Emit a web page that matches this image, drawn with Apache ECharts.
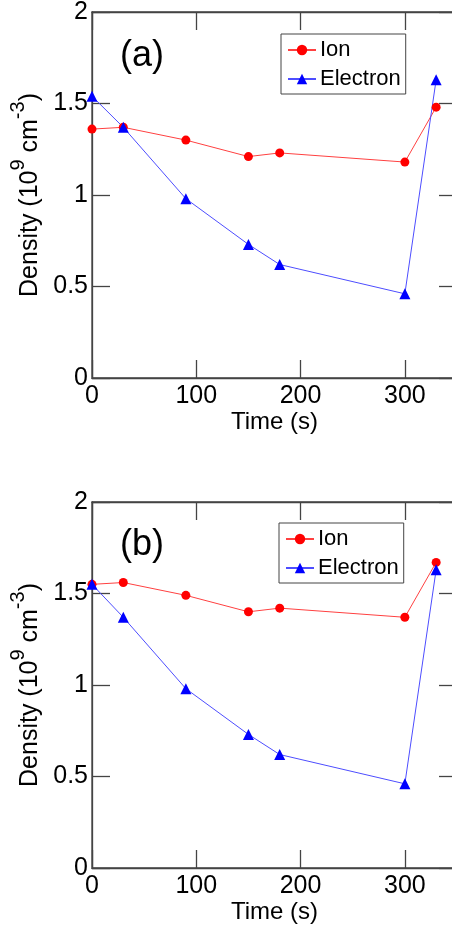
<!DOCTYPE html>
<html>
<head>
<meta charset="utf-8">
<script src="https://cdn.jsdelivr.net/npm/echarts@6/dist/echarts.min.js"></script>
<style>
  html, body { margin: 0; padding: 0; background: #fff; }
  #chart { width: 452px; height: 932px; }
</style>
</head>
<body>
<div id="chart"></div>
<script>
// 数据：时间 (s) 与两个面板的密度 (10^9 cm^-3)
const timeS = [0, 30, 90, 150, 180, 300, 330];
const ionA = [1.36, 1.37, 1.30, 1.21, 1.23, 1.18, 1.48];
const electronA = [1.54, 1.37, 0.98, 0.73, 0.62, 0.46, 1.63];
const ionB = [1.55, 1.56, 1.49, 1.40, 1.42, 1.37, 1.67];
const electronB = [1.55, 1.37, 0.98, 0.73, 0.62, 0.46, 1.63];
const panelLabels = ['(a)', '(b)'];
const seriesNames = ['Ion', 'Electron'];

const FONT = "'Liberation Sans', Arial, sans-serif";
const AXIS_COLOR = '#444';

const toPairs = (vals) => timeS.map((t, i) => [t, vals[i]]);

// 两个面板的位置
const panels = [
  { top: 12, legendTop: 34, legendLeft: 281, labelY: 58 },
  { top: 502, legendTop: 523, legendLeft: 279, labelY: 547 }
];

const chart = echarts.init(document.getElementById('chart'));

const grids = [];
const xAxes = [];
const yAxes = [];
const legends = [];
const graphics = [];

// 轴线和刻度的公共样式（刻度朝内，四边成框），每个轴单独一份
const makeLine = () => ({ show: true, onZero: false, lineStyle: { color: AXIS_COLOR, width: 1.3 } });
const makeTick = () => ({ show: true, inside: true, length: 18, lineStyle: { color: AXIS_COLOR, width: 1.3 } });

panels.forEach((p, i) => {
  // 右边框超出画布（x 最大值 350 被裁掉），不让 ECharts 收缩网格
  grids.push({
    left: 92, top: p.top, width: 365, height: 366,
    outerBoundsMode: 'none',
    show: true, borderColor: AXIS_COLOR, borderWidth: 1.3, backgroundColor: 'transparent'
  });

  // 底部 x 轴（带刻度标签和名称）
  xAxes.push({
    type: 'value', gridIndex: i, position: 'bottom',
    min: 0, max: 350, interval: 100,
    name: 'Time (s)', nameLocation: 'middle', nameGap: 29,
    nameTextStyle: { fontSize: 24, color: '#000', fontFamily: FONT },
    axisLine: makeLine(),
    axisTick: makeTick(),
    axisLabel: { fontSize: 25, color: '#000', fontFamily: FONT, margin: 6, showMaxLabel: false },
    splitLine: { show: false }
  });
  // 顶部 x 轴（只画刻度）
  xAxes.push({
    type: 'value', gridIndex: i, position: 'top',
    min: 0, max: 350, interval: 100,
    axisLine: makeLine(),
    axisTick: makeTick(),
    axisLabel: { show: false },
    splitLine: { show: false }
  });

  // 左侧 y 轴
  yAxes.push({
    type: 'value', gridIndex: i, position: 'left',
    min: 0, max: 2, interval: 0.5,
    name: '{m|Density (10}{s|9}{m| cm}{s|-3}{m|)}',
    nameLocation: 'middle', nameGap: 41,
    nameTextStyle: {
      fontFamily: FONT, color: '#000',
      rich: {
        m: { fontSize: 25, lineHeight: 25, fontFamily: FONT, color: '#000', verticalAlign: 'bottom' },
        s: { fontSize: 20, lineHeight: 20, fontFamily: FONT, color: '#000', verticalAlign: 'bottom', padding: [0, 0, 14, 0] }
      }
    },
    axisLine: makeLine(),
    axisTick: makeTick(),
    axisLabel: { fontSize: 25, color: '#000', fontFamily: FONT, margin: 4 },
    splitLine: { show: false }
  });
  // 右侧 y 轴（只画刻度）
  yAxes.push({
    type: 'value', gridIndex: i, position: 'right',
    min: 0, max: 2, interval: 0.5,
    axisLine: makeLine(),
    axisTick: makeTick(),
    axisLabel: { show: false },
    splitLine: { show: false }
  });

  legends.push({
    left: p.legendLeft, top: p.legendTop,
    orient: 'vertical',
    data: seriesNames,
    backgroundColor: '#fff',
    borderColor: '#444', borderWidth: 1, borderRadius: 0,
    padding: [5, 5, 4, 6],
    itemGap: 7, itemWidth: 28, itemHeight: 13,
    textStyle: { fontSize: 22, lineHeight: 22, color: '#000', fontFamily: FONT, padding: [0, 0, 0, -1] },
    selectedMode: false
  });

  graphics.push({
    type: 'text', left: 120, top: p.labelY - 20, z: 10,
    style: { text: panelLabels[i], fontSize: 36, fontFamily: FONT, fill: '#000' }
  });
});

const makeSeries = (name, vals, i, color, lineColor, symbol, size) => ({
  name: name, type: 'line',
  xAxisIndex: i * 2, yAxisIndex: i * 2,
  data: toPairs(vals),
  symbol: symbol, symbolSize: size,
  itemStyle: { color: color },
  lineStyle: { color: lineColor, width: 1 },
  z: 5,
  animation: false
});

const option = {
  animation: false,
  textStyle: { fontFamily: FONT },
  grid: grids,
  xAxis: xAxes,
  yAxis: yAxes,
  legend: legends,
  graphic: graphics,
  series: [
    makeSeries('Ion', ionA, 0, '#ff0000', '#ff4040', 'circle', 9),
    makeSeries('Electron', electronA, 0, '#0000ff', '#4d4dff', 'triangle', 11),
    makeSeries('Ion', ionB, 1, '#ff0000', '#ff4040', 'circle', 9),
    makeSeries('Electron', electronB, 1, '#0000ff', '#4d4dff', 'triangle', 11)
  ]
};

chart.setOption(option);
</script>
</body>
</html>
